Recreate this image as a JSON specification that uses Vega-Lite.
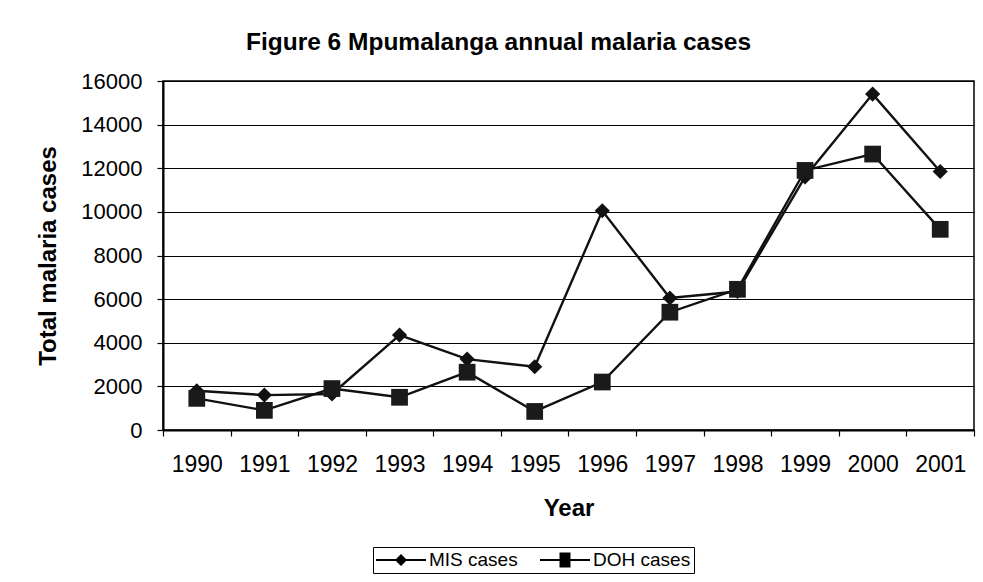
{
  "$schema": "https://vega.github.io/schema/vega-lite/v6.json",
  "width": 811,
  "height": 349,
  "autosize": {"type": "none"},
  "padding": {"left": 163, "top": 81, "right": 9, "bottom": 152},
  "background": "white",
  "title": {
    "text": "Figure 6 Mpumalanga annual malaria cases",
    "font": "Liberation Sans",
    "fontSize": 24.5,
    "fontWeight": "bold",
    "color": "black",
    "anchor": "middle",
    "frame": "group",
    "baseline": "alphabetic",
    "offset": -4,
    "dx": -70
  },
  "data": {
    "values": [
      {"year": "1990", "series": "MIS cases", "cases": 1800},
      {"year": "1991", "series": "MIS cases", "cases": 1600},
      {"year": "1992", "series": "MIS cases", "cases": 1650},
      {"year": "1993", "series": "MIS cases", "cases": 4350},
      {"year": "1994", "series": "MIS cases", "cases": 3250},
      {"year": "1995", "series": "MIS cases", "cases": 2900},
      {"year": "1996", "series": "MIS cases", "cases": 10050},
      {"year": "1997", "series": "MIS cases", "cases": 6050},
      {"year": "1998", "series": "MIS cases", "cases": 6350},
      {"year": "1999", "series": "MIS cases", "cases": 11600},
      {"year": "2000", "series": "MIS cases", "cases": 15400},
      {"year": "2001", "series": "MIS cases", "cases": 11850},
      {"year": "1990", "series": "DOH cases", "cases": 1450},
      {"year": "1991", "series": "DOH cases", "cases": 900},
      {"year": "1992", "series": "DOH cases", "cases": 1900},
      {"year": "1993", "series": "DOH cases", "cases": 1500},
      {"year": "1994", "series": "DOH cases", "cases": 2650},
      {"year": "1995", "series": "DOH cases", "cases": 850},
      {"year": "1996", "series": "DOH cases", "cases": 2200},
      {"year": "1997", "series": "DOH cases", "cases": 5400},
      {"year": "1998", "series": "DOH cases", "cases": 6450},
      {"year": "1999", "series": "DOH cases", "cases": 11900},
      {"year": "2000", "series": "DOH cases", "cases": 12650},
      {"year": "2001", "series": "DOH cases", "cases": 9200}
    ]
  },
  "encoding": {
    "x": {
      "field": "year",
      "type": "ordinal",
      "scale": {"type": "band", "paddingInner": 0, "paddingOuter": 0},
      "axis": {
        "title": "Year",
        "labelAngle": 0,
        "labelFontSize": 23,
        "labelPadding": 17,
        "tickBand": "extent",
        "tickSize": 6,
        "titleFontSize": 24,
        "titleFontWeight": "bold",
        "titleY": 85,
        "titleBaseline": "alphabetic",
        "grid": false
      }
    },
    "y": {
      "field": "cases",
      "type": "quantitative",
      "scale": {"domain": [0, 16000], "nice": false},
      "axis": {
        "title": "Total malaria cases",
        "values": [0, 2000, 4000, 6000, 8000, 10000, 12000, 14000, 16000],
        "format": "d",
        "labelFontSize": 22,
        "labelPadding": 15,
        "tickSize": 6,
        "titleFontSize": 24,
        "titleFontWeight": "bold",
        "titleX": -108,
        "titleY": 174.5,
        "titleBaseline": "alphabetic",
        "grid": true
      }
    }
  },
  "layer": [
    {
      "mark": {"type": "line", "color": "#111111", "strokeWidth": 2.4},
      "encoding": {"detail": {"field": "series"}}
    },
    {
      "transform": [{"filter": "datum.series == 'MIS cases'"}],
      "mark": {"type": "point", "shape": "diamond", "filled": true, "color": "#111111", "opacity": 1, "size": 230}
    },
    {
      "transform": [{"filter": "datum.series == 'DOH cases'"}],
      "mark": {"type": "point", "shape": "square", "filled": true, "color": "#1a1a1a", "opacity": 1, "size": 280}
    },
    {
      "transform": [{"filter": "false"}],
      "mark": {"type": "point", "filled": true, "color": "black", "opacity": 1},
      "encoding": {
        "shape": {
          "field": "series",
          "type": "nominal",
          "scale": {
            "domain": ["MIS cases", "DOH cases"],
            "range": [
              "M-2.5,-0.1H2.5V0.1H-2.5ZM0,-0.6L0.6,0L0,0.6L-0.6,0Z",
              "M-2.5,-0.1H2.5V0.1H-2.5ZM-0.55,-0.75H0.55V0.75H-0.55Z"
            ]
          },
          "legend": {
            "title": null,
            "orient": "none",
            "legendX": 210,
            "legendY": 466,
            "direction": "horizontal",
            "padding": 3,
            "strokeColor": "black",
            "fillColor": "white",
            "symbolSize": 400,
            "symbolOffset": 15,
            "symbolFillColor": "black",
            "symbolStrokeWidth": 0,
            "symbolOpacity": 1,
            "labelFontSize": 19,
            "labelFont": "Liberation Sans",
            "labelColor": "black",
            "labelOffset": 18,
            "columnPadding": 22,
            "rowPadding": 0,
            "cornerRadius": 0,
            "encode": {
              "symbols": {
                "update": {
                  "fill": {"value": "black"},
                  "opacity": {"value": 1}
                }
              }
            }
          }
        }
      }
    }
  ],
  "config": {
    "font": "Liberation Sans",
    "view": {"stroke": "black", "strokeWidth": 1.5},
    "axis": {
      "domainColor": "black",
      "domainWidth": 2,
      "tickColor": "black",
      "tickWidth": 1.2,
      "gridColor": "black",
      "gridWidth": 1,
      "gridOpacity": 1,
      "labelColor": "black",
      "titleColor": "black",
      "labelFont": "Liberation Sans",
      "titleFont": "Liberation Sans"
    }
  }
}
